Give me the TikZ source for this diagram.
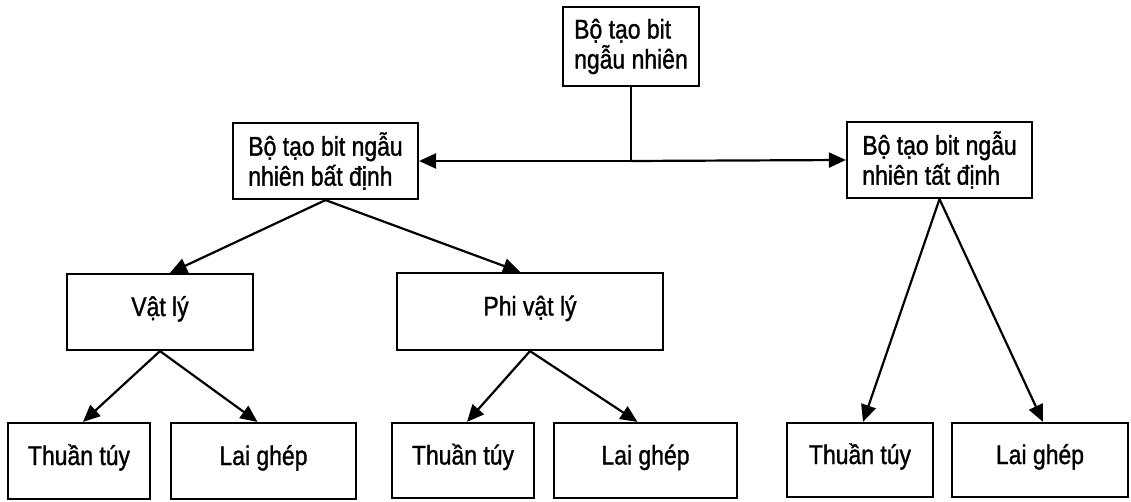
\documentclass[tikz,border=0pt]{standalone}
\usepackage{fontspec}
\setmainfont{Liberation Sans}[FakeStretch=0.85,FakeBold=1.2]
\usetikzlibrary{arrows.meta,calc}
\begin{document}
\begin{tikzpicture}[x=1pt,y=-1pt,
  tbox/.style={draw, line width=2.2pt, inner sep=0pt, font=\fontsize{27}{30}\selectfont},
  onebox/.style={tbox, text height=20pt, text depth=12pt},
  twobox/.style={tbox, align=left},
  link/.style={line width=2.2pt},
  arr/.style={link, -{Triangle[length=17pt,width=15pt]}}]
\useasboundingbox (0,0) rectangle (1131,502);

% root
\node[twobox, minimum width=136pt, minimum height=79pt] (root) at (631,46.5)
  {Bộ tạo bit\\ngẫu nhiên};

% second level
\node[twobox, minimum width=185pt, minimum height=76pt] (nd) at (325.5,161)
  {Bộ tạo bit ngẫu\\nhiên bất định};
\node[twobox, minimum width=185pt, minimum height=76pt] (td) at (939.5,160)
  {Bộ tạo bit ngẫu\\nhiên tất định};

% third level
\node[onebox, minimum width=186pt, minimum height=76pt] (vl) at (160,312) {Vật lý};
\node[onebox, minimum width=266pt, minimum height=77pt] (pvl) at (530,311.5) {Phi vật lý};

% leaves
\node[onebox, minimum width=142pt, minimum height=76pt] (t1) at (79,461) {Thuần túy};
\node[onebox, minimum width=185pt, minimum height=76pt] (l1) at (263.5,461) {Lai ghép};
\node[onebox, minimum width=142pt, minimum height=75pt] (t2) at (463,460.5) {Thuần túy};
\node[onebox, minimum width=183pt, minimum height=75pt] (l2) at (645.5,460.5) {Lai ghép};
\node[onebox, minimum width=146pt, minimum height=74pt] (t3) at (860,460) {Thuần túy};
\node[onebox, minimum width=176pt, minimum height=74pt] (l3) at (1040,460) {Lai ghép};

% root split
\coordinate (j) at (root.south |- nd.east);
\draw[link] (root.south) -- (j);
\draw[arr] (j) -- (nd.east);
\draw[arr] (j) -- (td.west);

% branches
\draw[arr] (nd.south) -- ($(vl.north)+(10,0)$);
\draw[arr] (nd.south) -- ($(pvl.north)+(-10,0)$);
\draw[arr] (vl.south) -- ($(t1.north)+(4,0)$);
\draw[arr] (vl.south) -- ($(l1.north)+(-6,0)$);
\draw[arr] (pvl.south) -- ($(t2.north)+(4,0)$);
\draw[arr] (pvl.south) -- ($(l2.north)+(-8,0)$);
\draw[arr] (td.south) -- ($(t3.north)+(3,0)$);
\draw[arr] (td.south) -- ($(l3.north)+(3,0)$);
\end{tikzpicture}
\end{document}
